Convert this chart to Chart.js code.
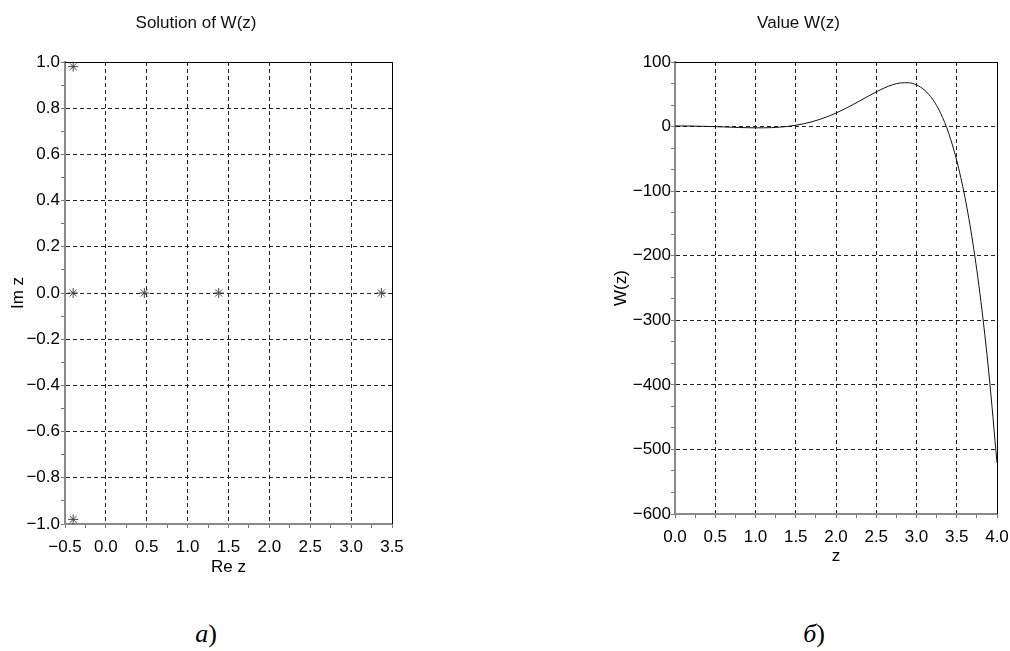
<!DOCTYPE html>
<html>
<head>
<meta charset="utf-8">
<script src="https://cdn.jsdelivr.net/npm/chart.js@4.4.0/dist/chart.umd.min.js"></script>
<style>
body { margin:0; background:#fff; width:1010px; height:651px; position:relative; overflow:hidden; }
canvas { position:absolute; top:0; }
#left { left:0; }
#right { left:600px; }
.cap { position:absolute; top:619px; width:80px; text-align:center; font-family:"Liberation Serif", serif; font-size:26px; line-height:30px; color:#000; }
</style>
</head>
<body>
<canvas id="left" width="420" height="600"></canvas>
<canvas id="right" width="430" height="600"></canvas>
<div class="cap" style="left:166px"><i>а</i>)</div>
<div class="cap" style="left:774px"><i>б</i>)</div>
<script>
// roots of W(z)
var reZ = [-0.40, -0.40, -0.40, 0.47, 1.38, 3.37];
var imZ = [0.98, 0.00, -0.98, 0.00, 0.00, 0.00];

// W(z) on [0, 4]
var zVals = [0.0,0.1,0.2,0.3,0.4,0.5,0.6,0.7,0.8,0.9,1.0,1.1,1.2,1.3,1.4,1.5,1.6,1.7,1.8,1.9,2.0,
             2.1,2.2,2.3,2.4,2.5,2.6,2.7,2.8,2.9,3.0,3.1,3.2,3.3,3.4,3.5,3.6,3.7,3.8,3.9,4.0];
var wVals = [0.98,0.94,0.80,0.57,0.26,-0.12,-0.55,-1.00,-1.42,-1.76,-1.95,-1.93,-1.61,-0.90,0.28,2.01,
             4.37,7.41,11.19,15.71,20.96,26.87,33.32,40.13,47.05,53.75,59.79,64.62,67.59,67.89,64.55,
             56.47,42.33,20.62,-10.39,-52.66,-108.42,-180.17,-270.70,-383.14,-520.95];

// axis ranges: [min, max, number of minor steps, minor steps per labelled tick]
var leftX = [-0.5, 3.5, 16, 2];
var leftY = [-1.0, 1.0, 20, 2];
var rightX = [0.0, 4.0, 16, 2];
var rightY = [-600, 100, 21, 3];

var FONT = "'Liberation Sans', Arial, sans-serif";

function minus(s) { return s.replace('-', '\u2212'); }

function axis(range, decimals, pad, opts) {
  var n = range[2], every = range[3];
  var step = (range[1] - range[0]) / n;
  function idx(v) { return Math.round((v - range[0]) / step); }
  function major(v) { return idx(v) % every === 0; }
  return Object.assign({
    type: 'linear',
    min: range[0],
    max: range[1],
    afterBuildTicks: function(s) {
      var t = [];
      for (var i = 0; i <= n; i++) t.push({ value: Math.round((range[0] + i * step) * 1e6) / 1e6 });
      s.ticks = t;
    },
    ticks: {
      autoSkip: false,
      maxRotation: 0,
      padding: pad,
      color: '#000',
      font: { family: FONT, size: 17 },
      callback: function(v) {
        if (!major(v)) return '';
        var s = Math.abs(v) < 1e-9 ? (0).toFixed(decimals) : v.toFixed(decimals);
        return minus(s);
      }
    },
    grid: {
      color: function(c) { return c.tick && major(c.tick.value) ? '#222' : 'rgba(0,0,0,0)'; },
      lineWidth: 1,
      tickColor: '#777',
      tickLength: 4,
      tickBorderDash: []
    },
    border: { color: '#8a8a8a', width: 2, dash: [4, 3] }
  }, opts);
}

function axisTitle(text, padTop, padBottom) {
  return {
    display: true,
    text: text,
    color: '#000',
    font: { family: FONT, size: 17, lineHeight: 1.2 },
    padding: { top: padTop, bottom: padBottom }
  };
}

var frame = {
  id: 'frame',
  afterDraw: function(chart) {
    var a = chart.chartArea, c = chart.ctx;
    c.save();
    c.strokeStyle = '#000';
    c.lineWidth = 1;
    c.beginPath();
    c.moveTo(a.left, a.top + 0.5);
    c.lineTo(a.right + 0.5, a.top + 0.5);
    c.lineTo(a.right + 0.5, a.bottom);
    c.stroke();
    c.restore();
  }
};

function titleOpts(text) {
  return {
    display: true,
    text: text,
    color: '#111',
    font: { family: FONT, size: 17, weight: 'normal', lineHeight: 1.2 },
    padding: { top: 13, bottom: 28.6 }
  };
}

var leftPts = reZ.map(function(x, i) { return { x: x, y: imZ[i] }; });

new Chart(document.getElementById('left'), {
  type: 'scatter',
  data: {
    datasets: [{
      data: leftPts,
      pointStyle: 'star',
      pointRadius: 5,
      borderColor: '#444',
      backgroundColor: '#444',
      borderWidth: 1,
      clip: false
    }]
  },
  options: {
    responsive: false,
    animation: false,
    devicePixelRatio: 1,
    layout: { padding: { left: 0, right: 28, top: 0, bottom: 0 } },
    plugins: { legend: { display: false }, tooltip: { enabled: false }, title: titleOpts('Solution of W(z)') },
    scales: {
      x: axis(leftX, 1, 9, {
        afterFit: function(s) { s.height = 76; },
        title: axisTitle('Re z', 0, 22.8)
      }),
      y: axis(leftY, 1, 1, {
        afterFit: function(s) { s.width = 65; },
        title: axisTitle('Im z', 7.8, 0)
      })
    }
  },
  plugins: [frame]
});

var rightPts = zVals.map(function(x, i) { return { x: x, y: wVals[i] }; });

new Chart(document.getElementById('right'), {
  type: 'line',
  data: {
    datasets: [{
      data: rightPts,
      borderColor: '#111',
      borderWidth: 1,
      pointRadius: 0,
      fill: false,
      cubicInterpolationMode: 'monotone'
    }]
  },
  options: {
    responsive: false,
    animation: false,
    devicePixelRatio: 1,
    layout: { padding: { left: 0, right: 33, top: 0, bottom: 0 } },
    plugins: { legend: { display: false }, tooltip: { enabled: false }, title: titleOpts('Value W(z)') },
    scales: {
      x: axis(rightX, 1, 9, {
        afterFit: function(s) { s.height = 86; },
        title: axisTitle('z', 0, 33.1)
      }),
      y: axis(rightY, 0, 0, {
        afterFit: function(s) { s.width = 75; },
        title: axisTitle('W(z)', 11.5, 0)
      })
    }
  },
  plugins: [frame]
});
</script>
</body>
</html>
